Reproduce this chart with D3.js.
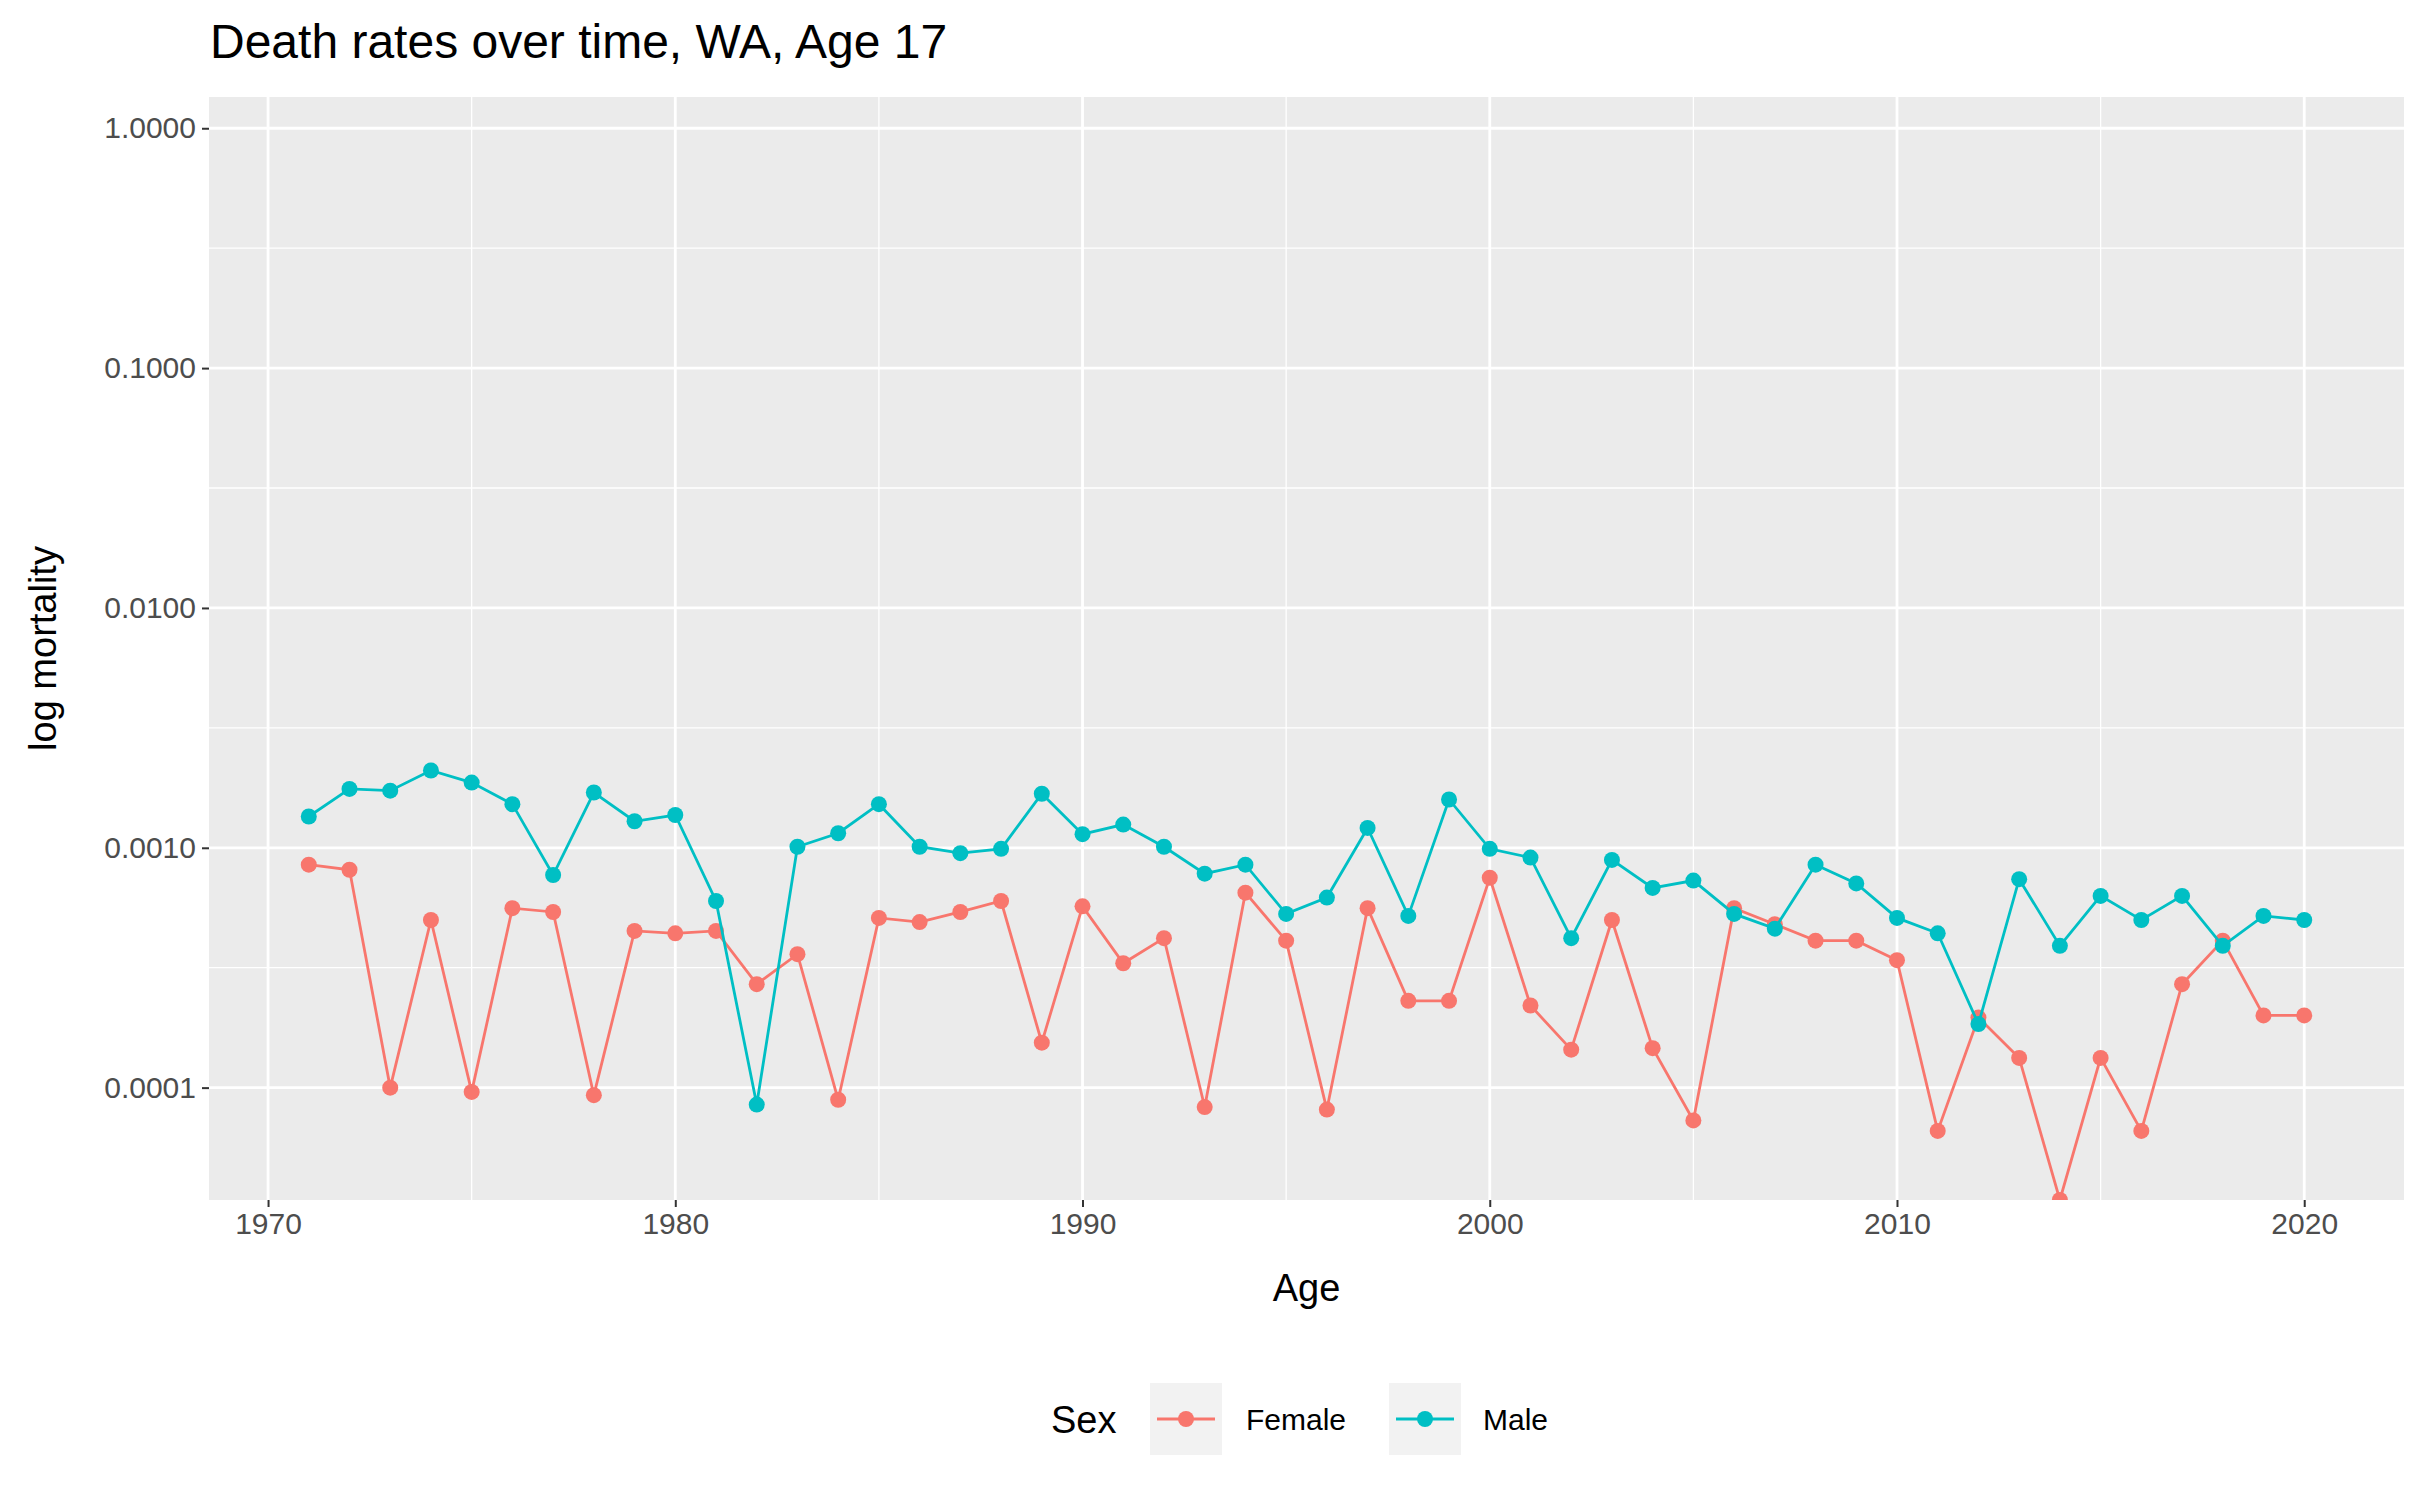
<!DOCTYPE html>
<html><head><meta charset="utf-8">
<script src="https://cdn.jsdelivr.net/npm/d3@7"></script>
<style>body{margin:0;background:#fff}text{font-family:"Liberation Sans",Arial,sans-serif}</style>
</head><body><div id="chart"></div>
<script>
// values
const years = d3.range(1971, 2021);
const female = [0.00085,0.00081,0.0001,0.0005,0.000096,0.00056,0.00054,0.000093,0.00045,0.00044,
  0.00045,0.00027,0.00036,0.000089,0.00051,0.00049,0.00054,0.0006,0.000154,0.00057,
  0.00033,0.00042,0.000083,0.00065,0.00041,0.000081,0.00056,0.00023,0.00023,0.00075,
  0.00022,0.000144,0.0005,0.000146,0.000073,0.00056,0.00048,0.00041,0.00041,0.00034,
  0.000066,0.000196,0.000133,0.000034,0.000133,0.000066,0.00027,0.00041,0.0002,0.0002];
const male = [0.00135,0.00176,0.00173,0.0021,0.00187,0.00152,0.00077,0.0017,0.00129,0.00137,
  0.0006,0.000085,0.00101,0.00115,0.00152,0.00101,0.00095,0.00099,0.00168,0.00114,
  0.00125,0.00101,0.00078,0.00085,0.00053,0.00062,0.00121,0.00052,0.00159,0.00099,
  0.00091,0.00042,0.00089,0.00068,0.00073,0.00053,0.00046,0.00085,0.00071,0.00051,
  0.00044,0.000184,0.00074,0.00039,0.00063,0.0005,0.00063,0.00039,0.00052,0.0005];
const series = [{name:'Female', color:'#F8766D', values:female},{name:'Male', color:'#00BFC4', values:male}];
const xTicks = [1970,1980,1990,2000,2010,2020];
const xMinor = [1975,1985,1995,2005,2015];
const yTicks = [1,0.1,0.01,0.001,0.0001];
const yMinor = [Math.pow(10,-0.5),Math.pow(10,-1.5),Math.pow(10,-2.5),Math.pow(10,-3.5)];

const W = 2427, H = 1500;
const P = {l:209, r:2404, t:97, b:1200};
const svg = d3.select('#chart').append('svg').attr('width', W).attr('height', H);

const x = d3.scaleLinear().domain([1968.55, 2022.45]).range([P.l, P.r]);
const y = d3.scaleLog().domain([3.4e-5, 1.35]).range([P.b, P.t]);

svg.append('rect').attr('x',P.l).attr('y',P.t).attr('width',P.r-P.l).attr('height',P.b-P.t).attr('fill','#EBEBEB');
svg.append('clipPath').attr('id','clip').append('rect')
  .attr('x',P.l).attr('y',P.t).attr('width',P.r-P.l).attr('height',P.b-P.t);

const grid = svg.append('g').attr('stroke','#fff');
grid.selectAll('.ym').data(yMinor).join('line').attr('x1',P.l).attr('x2',P.r)
  .attr('y1',d=>y(d)).attr('y2',d=>y(d)).attr('stroke-width',1.3);
grid.selectAll('.xm').data(xMinor).join('line').attr('y1',P.t).attr('y2',P.b)
  .attr('x1',d=>x(d)).attr('x2',d=>x(d)).attr('stroke-width',1.3);
grid.selectAll('.yM').data(yTicks).join('line').attr('x1',P.l).attr('x2',P.r)
  .attr('y1',d=>y(d)).attr('y2',d=>y(d)).attr('stroke-width',2.8);
grid.selectAll('.xM').data(xTicks).join('line').attr('y1',P.t).attr('y2',P.b)
  .attr('x1',d=>x(d)).attr('x2',d=>x(d)).attr('stroke-width',2.8);

// axes
const xAxis = svg.append('g').attr('transform',`translate(0,${P.b})`)
  .call(d3.axisBottom(x).tickValues(xTicks).tickFormat(d3.format('d')).tickSize(7).tickPadding(6));
const yAxis = svg.append('g').attr('transform',`translate(${P.l},0)`)
  .call(d3.axisLeft(y).tickValues(yTicks).tickFormat(d3.format('.4f')).tickSize(7).tickPadding(6));
[xAxis,yAxis].forEach(a=>{
  a.select('.domain').remove();
  a.selectAll('line').attr('stroke','#333').attr('stroke-width',2);
  a.selectAll('text').attr('fill','#4D4D4D').attr('font-size',30);
});

const plot = svg.append('g').attr('clip-path','url(#clip)');
const line = d3.line().x((d,i)=>x(years[i])).y(d=>y(d));
series.forEach(s=>{
  plot.append('path').datum(s.values).attr('d',line).attr('fill','none')
    .attr('stroke',s.color).attr('stroke-width',2.8);
  plot.selectAll(null).data(s.values).join('circle')
    .attr('cx',(d,i)=>x(years[i])).attr('cy',d=>y(d)).attr('r',8).attr('fill',s.color);
});

svg.append('text').attr('x',210).attr('y',58).attr('font-size',48).attr('fill','#000')
  .text('Death rates over time, WA, Age 17');
svg.append('text').attr('x',(P.l+P.r)/2).attr('y',1301).attr('text-anchor','middle')
  .attr('font-size',38).text('Age');
svg.append('text').attr('transform',`translate(56,${(P.t+P.b)/2}) rotate(-90)`)
  .attr('text-anchor','middle').attr('font-size',38).text('log mortality');

// legend
const lg = svg.append('g');
lg.append('text').attr('x',1051).attr('y',1433).attr('font-size',38).text('Sex');
const keyX = [1150, 1389], labX = [1246, 1483];
series.forEach((s,i)=>{
  lg.append('rect').attr('x',keyX[i]).attr('y',1383).attr('width',72).attr('height',72).attr('fill','#F2F2F2');
  lg.append('line').attr('x1',keyX[i]+7).attr('x2',keyX[i]+65).attr('y1',1419).attr('y2',1419)
    .attr('stroke',s.color).attr('stroke-width',2.8);
  lg.append('circle').attr('cx',keyX[i]+36).attr('cy',1419).attr('r',8).attr('fill',s.color);
  lg.append('text').attr('x',labX[i]).attr('y',1430).attr('font-size',30).text(s.name);
});
</script></body></html>
